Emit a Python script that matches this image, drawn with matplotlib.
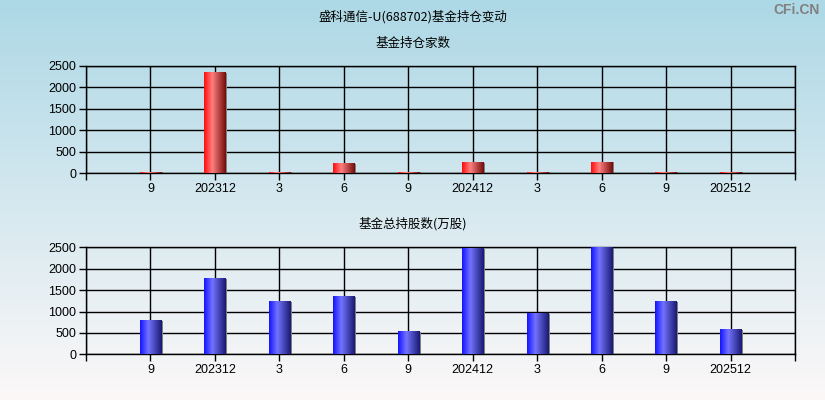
import numpy as np
import matplotlib
matplotlib.use('Agg')
import matplotlib.pyplot as plt
from matplotlib.colors import LinearSegmentedColormap

plt.rcParams['font.family'] = ['Liberation Sans', 'Noto Sans CJK SC', 'DejaVu Sans']

# data
labels = ['9', '202312', '3', '6', '9', '202412', '3', '6', '9', '202512']
fund_count = [18, 2340, 18, 217, 18, 234, 18, 257, 18, 18]
fund_shares = [778, 1759, 1222, 1339, 521, 2460, 942, 2495, 1222, 568]

title = '盛科通信-U(688702)基金持仓变动'
sub1 = '基金持仓家数'
sub2 = '基金总持股数(万股)'

W, H = 825, 400
fig = plt.figure(figsize=(W / 100, H / 100), dpi=100)

# background gradient light blue -> near white
bg = fig.add_axes([0, 0, 1, 1], zorder=-10)
top_c = np.array([173, 216, 230]) / 255
bot_c = np.array([252, 248, 248]) / 255
t = np.linspace(0, 1, 256)[:, None]
grad_bg = top_c * (1 - t) + bot_c * t
bg.imshow(grad_bg[:, None, :], aspect='auto', extent=[0, 1, 0, 1])
bg.set_xlim(0, 1)
bg.set_ylim(0, 1)
bg.axis('off')

red_cmap = LinearSegmentedColormap.from_list(
    'r', [(0, (1.0, 0.05, 0.05)), (0.38, (1.0, 0.5, 0.5)), (1, (0.45, 0.05, 0.05))])
blue_cmap = LinearSegmentedColormap.from_list(
    'b', [(0, (0.08, 0.08, 1.0)), (0.38, (0.45, 0.45, 1.0)), (1, (0.1, 0.1, 0.45))])


def draw_panel(rect, values, cmap, subtitle, sub_y):
    ax = fig.add_axes(rect)
    ax.patch.set_alpha(0)
    x = np.arange(len(values))
    w = 0.33
    g = np.linspace(0, 1, 64)[None, :]
    for xi, v in zip(x, values):
        # gray shadow on the right edge
        ax.bar(xi + w / 2 + 0.012, v, width=0.03, color='#808080', zorder=2)
        ax.imshow(g, cmap=cmap, aspect='auto', zorder=3,
                  extent=[xi - w / 2, xi + w / 2, 0, v], interpolation='bilinear')
    ax.set_xlim(-1, len(values))
    ax.set_ylim(0, 2500)
    ax.set_yticks(np.arange(0, 2501, 500))
    ax.set_xticks(np.arange(-1, len(values) + 1))
    ax.set_xticklabels([''] + labels + [''])
    ax.grid(True, color='black', linewidth=1.0, zorder=1)
    ax.set_axisbelow(True)
    for s in ax.spines.values():
        s.set_color('black')
        s.set_linewidth(1.0)
    ax.tick_params(axis='both', labelsize=9, length=5, width=1, color='black',
                   labelcolor='black', pad=2)
    fig.text(0.5, sub_y, subtitle, ha='center', va='center', fontsize=9,
             family=['Noto Sans CJK SC', 'DejaVu Sans'])
    return ax


draw_panel([86 / W, 1 - 173 / H, 709 / W, 107 / H], fund_count, red_cmap, sub1, 1 - 43 / H)
draw_panel([86 / W, 1 - 354.3 / H, 709 / W, 107 / H], fund_shares, blue_cmap, sub2, 1 - 224 / H)

fig.text(0.5, 1 - 17 / H, title, ha='center', va='center', fontsize=9,
         family=['Noto Sans CJK SC', 'DejaVu Sans'])
fig.text(820 / W, 1 - 10 / H, 'CFi.CN', ha='right', va='center', fontsize=10,
         color='#808080', fontweight='bold')

fig.savefig('out.png', dpi=100)
